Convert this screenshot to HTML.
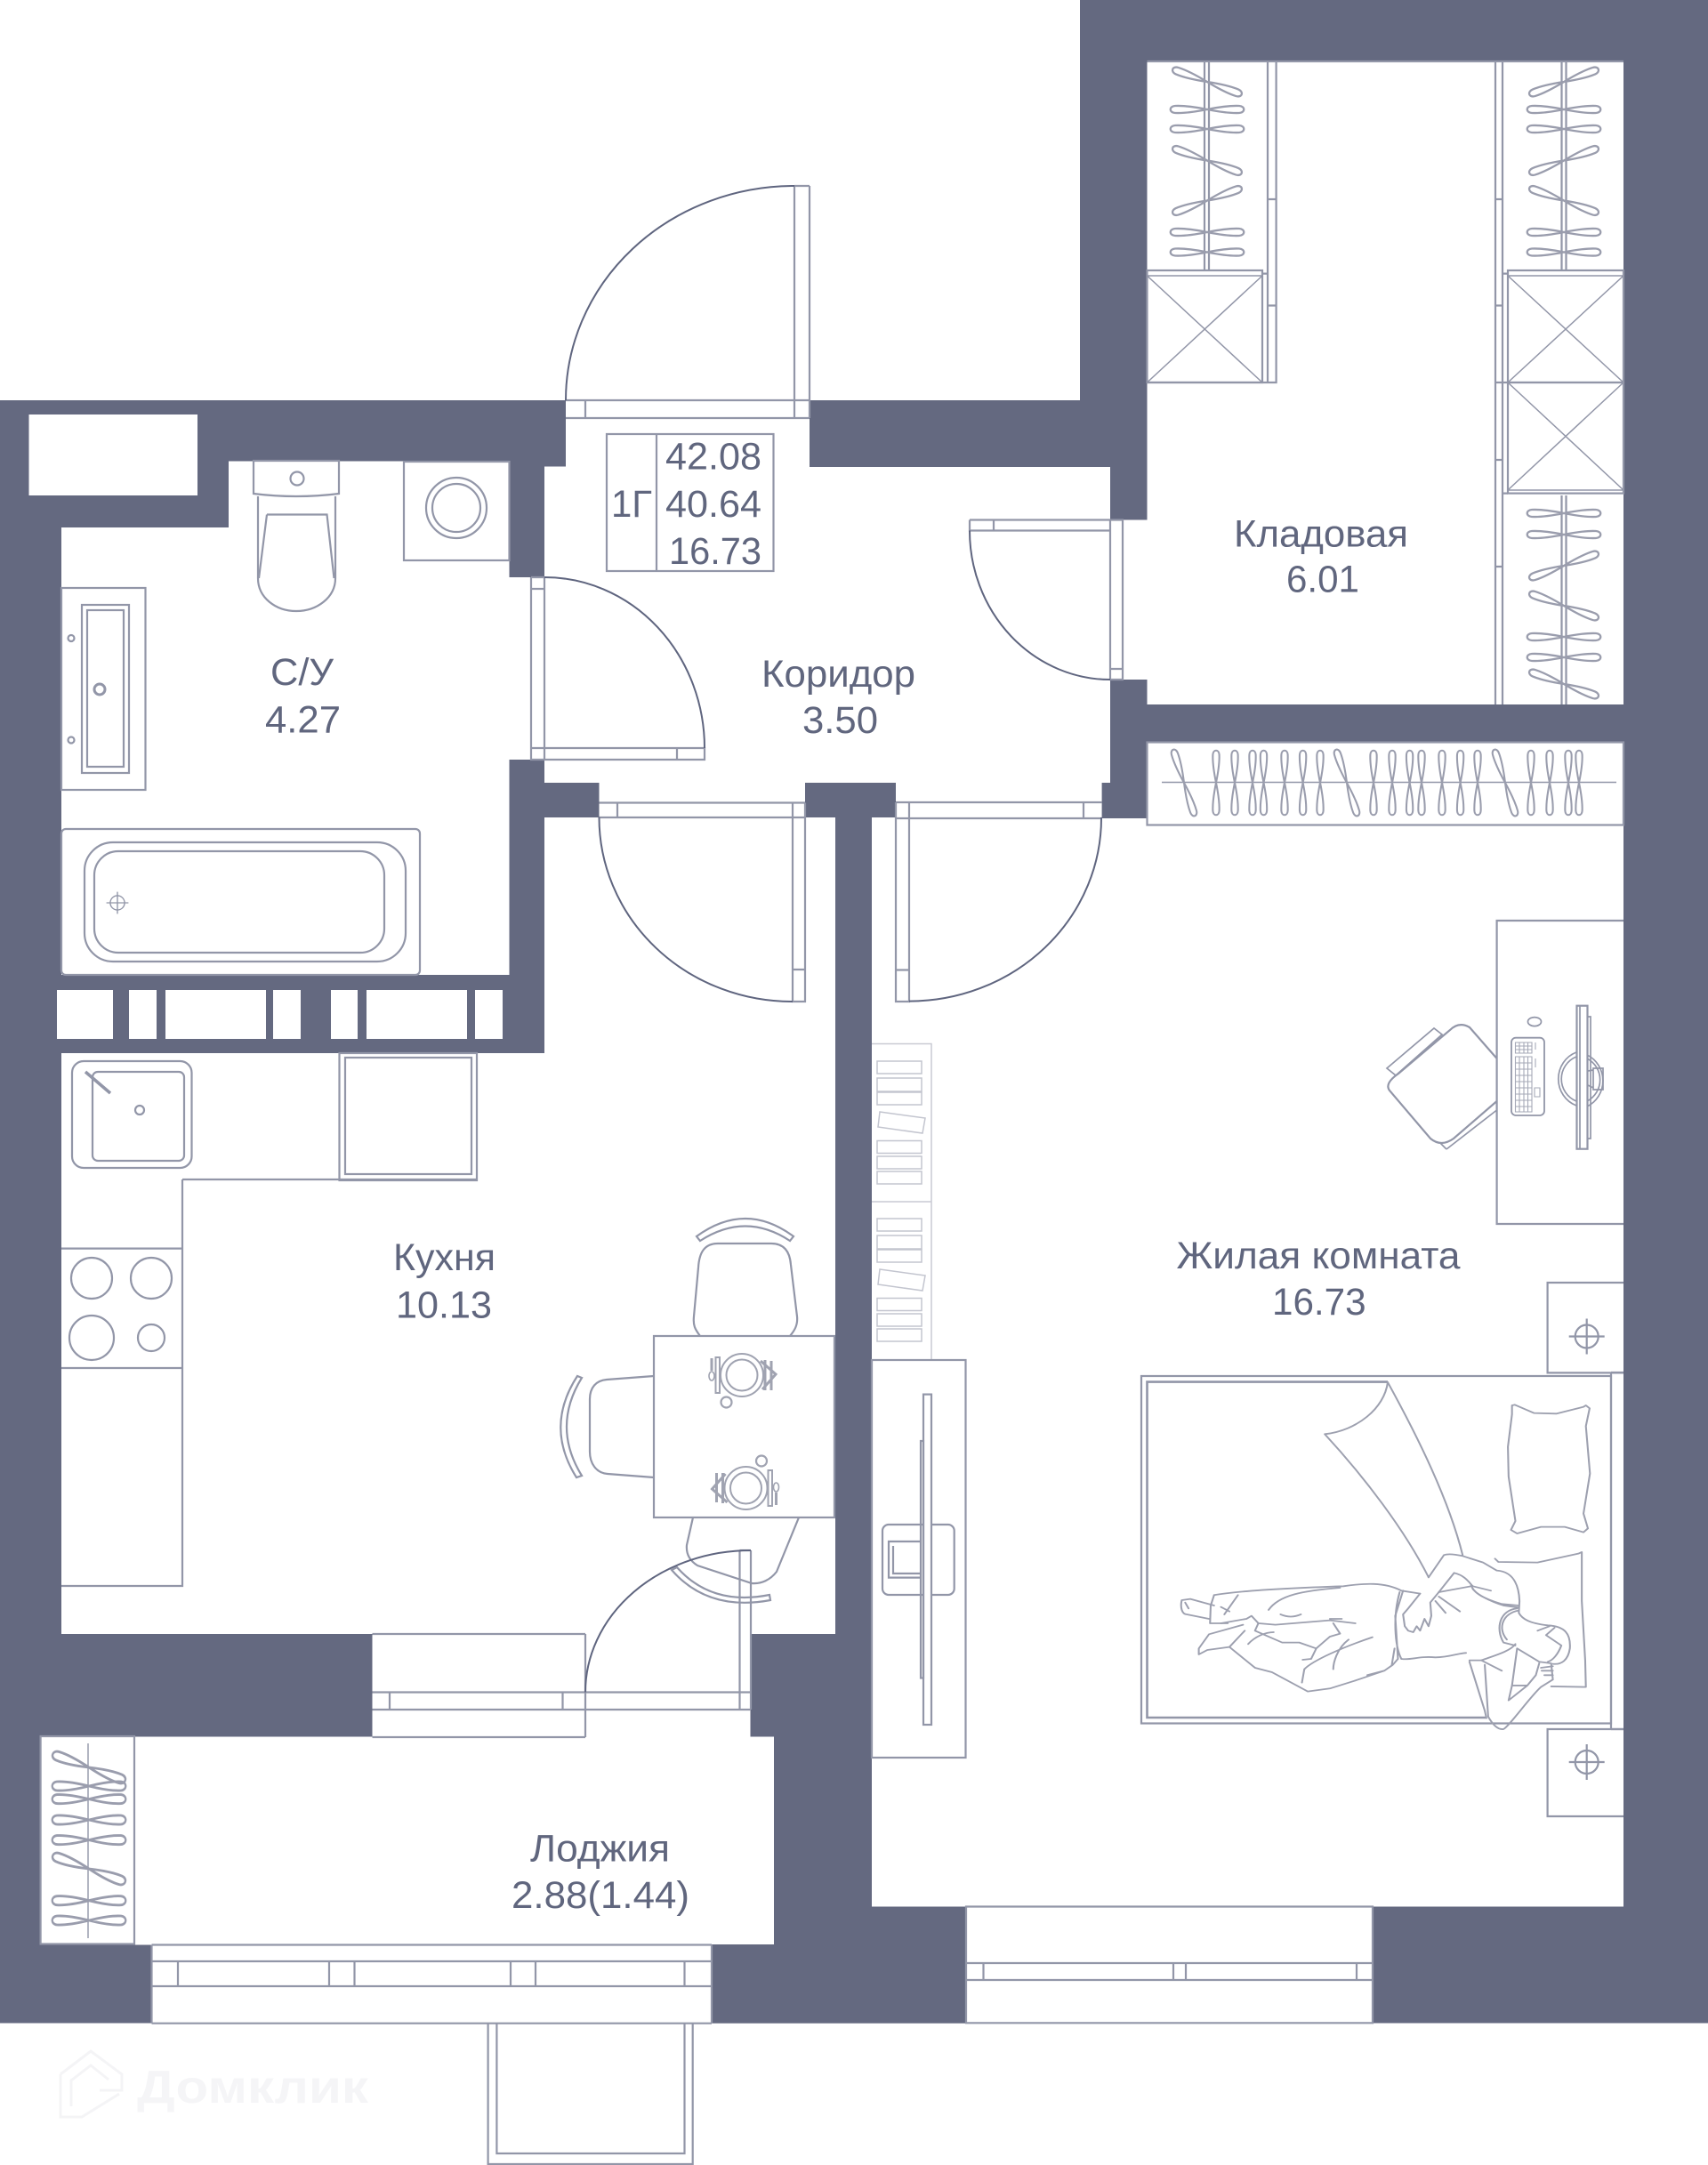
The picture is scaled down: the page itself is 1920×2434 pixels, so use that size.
<!DOCTYPE html>
<html lang="ru"><head><meta charset="utf-8"><title>План квартиры</title>
<style>
html,body{margin:0;padding:0;background:#fff}
svg{display:block}
text{font-family:"Liberation Sans","DejaVu Sans",sans-serif;fill:#60667e}
.w{fill:#646980}
.h{fill:#fff}
.l{fill:none;stroke:#9296a8;stroke-width:2.200}
.d{fill:none;stroke:#5f657f;stroke-width:2}
.g{fill:none;stroke:#c9cad3;stroke-width:1.500}
.n{fill:none;stroke:#9da0af;stroke-width:1.700;stroke-linejoin:round;stroke-linecap:round}
</style></head><body>
<svg width="1920" height="2434" viewBox="0 0 1920 2434" xmlns="http://www.w3.org/2000/svg">
<defs>
<path id="hg" d="M0 0C-10 -2 -26 -4.500 -36 -4C-43 -3.500 -43 3.500 -36 4C-26 4.500 -10 2 0 0C10 -2 26 -4.500 36 -4C43 -3.500 43 3.500 36 4C26 4.500 10 2 0 0Z" fill="none" stroke="#9a9dad" stroke-width="2.300"/>
<g id="cross"><path class="l" d="M-20 0H20M0 -20V20"/><circle class="l" cx="0" cy="0" r="13"/></g>
<g id="plate">
<circle cx="0" cy="0" r="24" fill="none" stroke="#a0a3b1" stroke-width="2"/>
<circle cx="0" cy="0" r="17.500" fill="none" stroke="#a0a3b1" stroke-width="2"/>
<circle cx="-17.500" cy="30.500" r="6" fill="none" stroke="#a0a3b1" stroke-width="2.200"/>
<rect x="-29.500" y="-20" width="4.500" height="40" fill="none" stroke="#a0a3b1" stroke-width="2"/>
<path d="M-34 -19V-5" stroke="#a0a3b1" stroke-width="3" fill="none"/>
<ellipse cx="-34" cy="1" rx="3" ry="5" fill="none" stroke="#a0a3b1" stroke-width="1.600"/>
<path d="M21 -16L38 -1L23 16M26 -17V17M33 -16V17" stroke="#a0a3b1" stroke-width="3" fill="none"/>
</g>
<g id="books" fill="none" stroke="#c3c5cf" stroke-width="1.500">
<rect x="986" y="0" width="50" height="14"/><rect x="986" y="19" width="50" height="15"/><rect x="986" y="35" width="50" height="14"/>
<path d="M989 57L1040 64L1037 81L987 74Z"/>
<rect x="986" y="89.500" width="50" height="14"/><rect x="986" y="107" width="50" height="14"/><rect x="986" y="124" width="50" height="14"/>
</g>
</defs>
<rect width="1920" height="2434" fill="#fff"/>

<!-- walls -->
<g class="w">
<rect x="0" y="450" width="636" height="68.500"/><rect x="572.500" y="518" width="63.500" height="6.500"/>
<rect x="0" y="450" width="257" height="143"/><rect x="0" y="450" width="69" height="1390"/>
<rect x="572.500" y="518" width="39.500" height="131"/><rect x="572.500" y="854" width="39.500" height="330"/>
<rect x="612" y="880" width="61.500" height="39"/>
<rect x="0" y="1096" width="612" height="88"/>
<rect x="0" y="1837" width="418.500" height="115.500"/><rect x="843.500" y="1837" width="135" height="115.500"/>
<rect x="0" y="1952" width="45.600" height="235"/><rect x="0" y="2186.500" width="170.500" height="88"/>
<rect x="870" y="1952" width="108.600" height="192"/>
<rect x="939" y="880" width="41" height="1264"/><rect x="905" y="880" width="102" height="39"/>
<rect x="870" y="2143.500" width="216" height="131"/><rect x="800" y="2186" width="286" height="88.700"/>
<rect x="1825" y="0" width="95" height="2274"/><rect x="1543" y="2143.500" width="377" height="131"/>
<rect x="1214" y="0" width="706" height="69"/><rect x="1214" y="0" width="75.500" height="525"/>
<rect x="910" y="450" width="379" height="75"/>
<rect x="1248" y="525" width="41.500" height="59.500"/><rect x="1248" y="764" width="41.500" height="28"/>
<rect x="1248" y="792" width="672" height="42"/><rect x="1248" y="834" width="41.500" height="86"/><rect x="1238.600" y="880" width="51" height="40"/>
</g>
<g class="h">
<rect x="32.500" y="466" width="189.500" height="91"/>
<rect x="64" y="1113" width="63" height="55"/><rect x="145" y="1113" width="31" height="55"/><rect x="186" y="1113" width="113" height="55"/><rect x="307" y="1113" width="31" height="55"/><rect x="372" y="1113" width="30" height="55"/><rect x="412" y="1113" width="113" height="55"/><rect x="534" y="1113" width="31" height="55"/>
</g>

<!-- doors -->
<g class="l">
<path d="M636 450H910M636 470H910M658 450V470M893 209V470M910 209V470M893 209H910"/>
<path d="M597 649V854H792V841H612M612 649V854M597 649H612M597 662H612M761 841V854M597 841H612"/>
<path d="M673.500 902.500H905M673.500 919H905M694 902.500V919M891 902.500V1126H905V902.500M891 1090H905"/>
<path d="M1007 902H1238.600M1007 920H1238.600M1007 902V1126H1022V902M1007 1090.500H1022M1218 902V920"/>
<path d="M1090 584.500H1262V764H1248V584.500M1090 584.500V596.500H1248M1117 584.500V596.500M1248 752H1262"/>
<path d="M658 1837V1953M418.500 1837H658M418.500 1953H658M418.500 1902.500H844M418.500 1922H844M438 1902.500V1922M632.500 1902.500V1922M658 1902.500V1922M831.500 1743V1922M844 1743V1922M831.500 1743H844"/>
</g>
<g class="d">
<path d="M636 450A257 241 0 0 1 893 209"/>
<path d="M612 649A180 192 0 0 1 792 841"/>
<path d="M673.500 919A217 207 0 0 0 891 1126"/>
<path d="M1022 1125.600A216 206 0 0 0 1238 919"/>
<path d="M1090 596.500A158 167.500 0 0 0 1248 764"/>
</g>

<!-- info box -->
<g class="l"><rect x="682" y="488" width="187.500" height="154"/><path d="M738 488V642"/></g>

<!-- bathroom -->
<g class="l">
<path d="M285 518H381V555Q333 561 285 555Z"/><ellipse cx="334" cy="538" rx="7.500" ry="7.500"/>
<path d="M290 558V650C290 672 310 687 333 687C356 687 377 672 377 650V558"/>
<path d="M300 578.500H367.500L375.500 650M300 578.500L291 650"/>
<rect x="454" y="519" width="118.500" height="111"/><circle cx="513" cy="571" r="34"/><circle cx="513" cy="571" r="27"/>
<rect x="69" y="661" width="94.500" height="227"/><rect x="92" y="680" width="53" height="189"/><rect x="98" y="686" width="41" height="176"/>
<circle cx="112" cy="775" r="6" stroke-width="3"/><circle cx="80" cy="717.500" r="3.500"/><circle cx="80" cy="832" r="3.500"/>
<rect x="69" y="932" width="403" height="164" rx="5"/><rect x="95" y="947" width="361" height="134" rx="32"/><rect x="106" y="957" width="326" height="114" rx="27"/>
</g>
<use href="#cross" transform="translate(132 1015) scale(.62)"/>

<!-- kitchen -->
<g class="l">
<path d="M205 1326H536M205 1326V1783H69M69 1403.600H205M69 1538H205"/>
<rect x="381.500" y="1184" width="154.500" height="143"/><rect x="388" y="1189" width="142" height="131"/>
<rect x="81" y="1193" width="134.500" height="120" rx="13"/><rect x="104" y="1205" width="103" height="100" rx="6"/><circle cx="157" cy="1248" r="5"/>
<path d="M96 1205L124 1229" stroke-width="3.500"/>
<circle cx="103" cy="1437" r="23"/><circle cx="170" cy="1437" r="23"/><circle cx="103" cy="1504" r="25"/><circle cx="170" cy="1504" r="15"/>
<rect x="735" y="1502" width="203" height="204" fill="#fff"/>
<path d="M787 1502C781 1494 779 1490 780 1480L785 1425C786 1408 792 1398 807 1398H867C882 1398 888 1408 889 1422L896 1480C897 1490 893 1496 888 1502"/>
<path d="M783 1390Q838 1350 892 1390L888 1395Q838 1362 787 1395Z"/>
<path d="M735 1547L682 1551C670 1552 663 1560 663 1573V1632C663 1645 670 1656 683 1657L735 1661"/>
<path d="M654 1549Q620 1604 654 1659L648 1661Q612 1604 649 1547Z"/>
<path d="M779 1706L772 1737C771 1748 776 1755 784 1760L845 1780C856 1781 866 1776 873 1767L898 1706"/>
<path d="M761 1762Q800 1806 865 1793L866 1799Q796 1812 755 1765Z"/>
</g>
<path class="d" d="M658 1902.500A186 159.500 0 0 1 844 1743"/>
<use href="#plate" transform="translate(834 1546)"/>
<use href="#plate" transform="translate(838.500 1673) rotate(180)"/>

<!-- loggia -->
<g class="l">
<rect x="45.600" y="1952" width="105.400" height="233.500"/><path d="M99 1960V2179" stroke-width="1.400"/>
<path d="M170.500 2186.500H800M170.500 2205H800M170.500 2233H800M170.500 2274.700H800M200 2205V2233M370 2205V2233M398.500 2205V2233M574 2205V2233M602 2205V2233M769.500 2205V2233M800 2186.500V2274.700M170.500 2186.500V2274.700"/>
<path d="M548.600 2274.700V2433H778.700V2274.700M558.400 2274.700V2421H769.500V2274.700"/>
</g>
<use href="#hg" transform="translate(100 1987) rotate(20) scale(1.050 1.250)"/>
<use href="#hg" transform="translate(100 2008) scale(1 1.250)"/>
<use href="#hg" transform="translate(100 2022.600) scale(1 1.250)"/>
<use href="#hg" transform="translate(100 2046) scale(1 1.250)"/>
<use href="#hg" transform="translate(100 2068.600) scale(1 1.250)"/>
<use href="#hg" transform="translate(100 2101) rotate(20) scale(1.050 1.250)"/>
<use href="#hg" transform="translate(100 2136.700) scale(1 1.250)"/>
<use href="#hg" transform="translate(100 2159) scale(1 1.250)"/>

<!-- bedroom window -->
<g class="l">
<path d="M1086 2143.500H1543V2274.300H1086ZM1086 2207H1543M1086 2226H1543M1105.500 2207V2226M1319 2207V2226M1333 2207V2226M1525 2207V2226"/>
</g>

<!-- storeroom -->
<g class="l">
<path d="M1289.500 69H1825M1434.600 69V430H1289.500M1425 69V430M1425 224H1434.600M1425 343.500H1434.600M1425 307.600H1419"/>
<path d="M1354 69V303M1359 69V303"/>
<rect x="1289.500" y="304" width="129.500" height="126"/><path d="M1289.500 310H1419M1289.500 310L1419 430M1419 310L1289.500 430" stroke-width="1.500"/>
<path d="M1681 69V792M1689 69V792M1681 224H1689M1681 343.500H1689M1681 430H1695M1681 517H1689M1681 637H1689M1689 307.600H1695M1689 554.600H1695"/>
<path d="M1755.500 69V303M1760.500 69V303M1755.500 557V792M1760.500 557V792"/>
<rect x="1695" y="304" width="130" height="126"/><path d="M1695 310H1825M1695 310L1825 430M1825 310L1695 430" stroke-width="1.500"/>
<rect x="1695" y="430" width="130" height="124.600"/><path d="M1695 551H1825M1695 430L1825 551M1825 430L1695 551" stroke-width="1.500"/>
<rect x="1289.500" y="834.500" width="535.500" height="93"/><path d="M1306 879.500H1817" stroke-width="1.500"/>
</g>
<use href="#hg" transform="translate(1357 92) rotate(20)"/><use href="#hg" transform="translate(1357 123)"/><use href="#hg" transform="translate(1357 145)"/><use href="#hg" transform="translate(1357 180.500) rotate(20)"/><use href="#hg" transform="translate(1357 225.500) rotate(-20)"/><use href="#hg" transform="translate(1357 261)"/><use href="#hg" transform="translate(1357 283.500)"/>
<use href="#hg" transform="translate(1758 92) rotate(-20)"/><use href="#hg" transform="translate(1758 123)"/><use href="#hg" transform="translate(1758 145)"/><use href="#hg" transform="translate(1758 180.500) rotate(-20)"/><use href="#hg" transform="translate(1758 225.500) rotate(20)"/><use href="#hg" transform="translate(1758 261)"/><use href="#hg" transform="translate(1758 283.500)"/>
<use href="#hg" transform="translate(1758 577)"/><use href="#hg" transform="translate(1758 601)"/><use href="#hg" transform="translate(1758 636) rotate(-20)"/><use href="#hg" transform="translate(1758 681) rotate(20)"/><use href="#hg" transform="translate(1758 716)"/><use href="#hg" transform="translate(1758 739)"/><use href="#hg" transform="translate(1758 769) rotate(20)"/>

<!-- bedroom wardrobe hangers -->
<use href="#hg" transform="translate(1331 880) rotate(72) scale(.95 .9)"/>
<use href="#hg" transform="translate(1367 880) rotate(90) scale(.88 .9)"/><use href="#hg" transform="translate(1388 880) rotate(90) scale(.88 .9)"/><use href="#hg" transform="translate(1408 880) rotate(90) scale(.88 .9)"/><use href="#hg" transform="translate(1420.500 880) rotate(90) scale(.88 .9)"/><use href="#hg" transform="translate(1444 880) rotate(90) scale(.88 .9)"/><use href="#hg" transform="translate(1464.600 880) rotate(90) scale(.88 .9)"/><use href="#hg" transform="translate(1484 880) rotate(90) scale(.88 .9)"/>
<use href="#hg" transform="translate(1514 880) rotate(72) scale(.95 .9)"/>
<use href="#hg" transform="translate(1544 880) rotate(90) scale(.88 .9)"/><use href="#hg" transform="translate(1565 880) rotate(90) scale(.88 .9)"/><use href="#hg" transform="translate(1584.600 880) rotate(90) scale(.88 .9)"/><use href="#hg" transform="translate(1598 880) rotate(90) scale(.88 .9)"/><use href="#hg" transform="translate(1621 880) rotate(90) scale(.88 .9)"/><use href="#hg" transform="translate(1641.600 880) rotate(90) scale(.88 .9)"/><use href="#hg" transform="translate(1661 880) rotate(90) scale(.88 .9)"/>
<use href="#hg" transform="translate(1692 880) rotate(72) scale(.95 .9)"/>
<use href="#hg" transform="translate(1721 880) rotate(90) scale(.88 .9)"/><use href="#hg" transform="translate(1742 880) rotate(90) scale(.88 .9)"/><use href="#hg" transform="translate(1763 880) rotate(90) scale(.88 .9)"/><use href="#hg" transform="translate(1775 880) rotate(90) scale(.88 .9)"/>

<!-- bedroom: bookshelves & tv -->
<path class="g" d="M980 1173.500H1047V1528M980 1351H1047"/>
<use href="#books" transform="translate(0 1193)"/>
<use href="#books" transform="translate(0 1370)"/>
<g class="l">
<rect x="980" y="1529" width="105.500" height="447" fill="#fff"/>
<rect x="992" y="1714" width="80.700" height="79" rx="7"/><path d="M1035 1733H999V1773.600H1035M1004 1738V1769H1035"/>
<rect x="1038" y="1567.600" width="9" height="371.400" fill="#fff"/><rect x="1035" y="1620" width="3" height="266.500"/>
<!-- desk -->
<path d="M1825 1035H1682.600V1376H1825"/>
<path d="M1784 1186A31 32 0 0 1 1784 1244M1772 1183A31 32 0 0 0 1772 1243M1784 1190A27 27 0 0 1 1784 1238M1772 1188A27 27 0 0 0 1772 1238" stroke-width="1.700"/>
<path d="M1785 1204L1791 1203V1201H1802V1225H1791V1223L1785 1220M1791 1203L1791 1223" stroke-width="1.700"/>
<rect x="1772.500" y="1130.700" width="12" height="161" fill="#fff"/><path d="M1776 1131V1291M1784.500 1143H1788V1280H1784.500" stroke-width="1.700"/>
<ellipse cx="1725" cy="1148.600" rx="7.500" ry="5" stroke-width="1.700"/>
<rect x="1699" y="1166.700" width="37" height="87.300" rx="5" stroke-width="1.800"/>
<path d="M1703.500 1172H1722V1184H1703.500ZM1703.500 1176H1722M1703.500 1180H1722M1708 1172V1184M1713 1172V1184M1717.500 1172V1184M1703.500 1188H1722V1250H1703.500ZM1703.500 1195H1722M1703.500 1202H1722M1703.500 1209H1722M1703.500 1216H1722M1703.500 1223H1722M1703.500 1230H1722M1703.500 1237H1722M1703.500 1244H1722M1708 1188V1250M1713 1188V1250M1717.500 1188V1250M1726 1172V1180M1726 1190V1200M1725 1223H1731V1233H1725Z" stroke-width="1.100" stroke="#a6a9b7"/>
<path d="M1682.600 1190L1652 1155Q1640 1148 1630 1158L1572 1207Q1556 1218 1562 1226L1608 1280Q1620 1290 1634 1280L1682.600 1238"/>
<path d="M1559 1201L1612 1156L1621 1163L1569 1209ZM1626 1292L1682.600 1248M1619 1285L1626 1292" stroke-width="1.700"/>
<!-- nightstands -->
<path d="M1825 1442H1739.600V1543.400H1825M1825 1944H1739.600V2042H1825"/>
<!-- bed -->
<rect x="1283" y="1547" width="528" height="390.500"/>
<path d="M1811 1543H1825M1811 1944H1825M1811 1543V1944"/>
<path d="M1560 1553.600H1289.500V1931H1671" stroke-width="2.600"/>
</g>
<use href="#cross" transform="translate(1783.700 1502.500)"/>
<use href="#cross" transform="translate(1783.700 1981)"/>

<!-- person / bedding traced in zoom coordinates -->
<g transform="translate(1250 1500) scale(.3827 .3333)">
<g class="n" style="stroke-width:5.400">
<path d="M810 162C800 250 720 325 625 337C740 480 860 660 930 820M810 162C900 350 990 560 1030 745"/>
<path d="M1175 240L1183 238L1240 266L1305 268L1385 245L1392 240L1403 250L1392 310L1404 470L1385 605L1398 655L1385 668L1330 650L1260 650L1190 672L1172 660L1185 630L1165 480L1163 380L1175 270Z"/>
<path d="M1125 757L1135 768L1250 770L1370 740L1380 735L1380 900L1390 1100L1392 1190L1290 1188"/>
<path d="M930 820L975 745Q990 738 1030 748L1090 770L1130 797C1175 800 1195 840 1197 900L1195 940C1205 960 1225 975 1280 982C1330 985 1348 1010 1345 1060C1340 1100 1320 1115 1295 1112"/>
<path d="M905 875L870 925L855 945L860 985L870 1000L885 1005L895 985L905 1000L918 960L930 985L938 950L935 905L960 870L1005 805C1040 815 1050 840 1060 850L1113 865"/>
<path d="M960 870L1055 850M960 885L1022 935M950 900L980 940"/>
<path d="M1055 845C1060 875 1100 895 1145 910L1195 915M1060 860C1075 880 1110 900 1150 915L1195 922"/>
<path d="M1190 925C1140 930 1125 990 1150 1040L1185 1050M1195 932C1150 940 1130 990 1160 1030"/>
<path d="M855 865L832 950L840 1095M845 870C825 950 830 1050 850 1095"/>
<path d="M300 880C370 865 550 855 680 850C740 840 800 835 850 865L905 875"/>
<path d="M850 1095C880 1100 900 1085 950 1090C990 1090 1020 1075 1040 1075M1050 1100L1085 1100C1120 1085 1170 1070 1185 1045"/>
<path d="M300 915L230 893L205 897C200 920 205 945 220 945L285 960M215 905L225 925M300 880L290 915L288 975L340 975M320 920L345 935M370 880L330 945"/>
<path d="M320 975L395 960L410 950L430 975L480 980L640 965L715 975M460 930C490 880 560 865 670 855M495 945Q525 960 555 945M640 960L675 960"/>
<path d="M430 975L420 1000L500 1040L550 1040L600 1060L640 1020L670 1010L650 975M400 1045C420 1020 450 1005 475 1005"/>
<path d="M385 980L285 1012L255 1060L255 1080L280 1065L345 1055L390 1000"/>
<path d="M345 1055L420 1125L470 1140L575 1205L640 1195L710 1170L800 1135L825 1115L840 1095M830 1060L822 1115M750 1150L800 1135"/>
<path d="M765 1022C680 1055 590 1100 565 1130L558 1175M695 1030C660 1060 650 1110 650 1130M600 1060L585 1095L560 1098"/>
<path d="M1050 1105L1095 1270L1100 1295M1095 1115L1105 1290C1120 1320 1135 1335 1150 1332C1165 1325 1230 1220 1260 1190L1295 1165L1290 1110L1255 1105L1190 1060M1085 1100L1145 1135"/>
<path d="M1190 1060L1175 1185L1165 1235L1220 1185L1245 1150L1255 1110M1175 1185L1220 1185"/>
<path d="M1260 1125L1295 1120M1262 1135L1295 1135M1270 1150L1295 1150M1250 1000L1285 985M1275 1015L1300 990M1275 1015L1320 1050C1310 1080 1295 1100 1280 1105"/>
</g>
</g>

<!-- labels -->
<g font-size="43">
<text x="687" y="581" textLength="46" lengthAdjust="spacingAndGlyphs">1Г</text>
<text x="748" y="527.500" textLength="108" lengthAdjust="spacingAndGlyphs">42.08</text>
<text x="748" y="581" textLength="108" lengthAdjust="spacingAndGlyphs">40.64</text>
<text x="752" y="634" textLength="104" lengthAdjust="spacingAndGlyphs">16.73</text>
<text x="304" y="770" textLength="71" lengthAdjust="spacingAndGlyphs">С/У</text>
<text x="298" y="823.500" textLength="85" lengthAdjust="spacingAndGlyphs">4.27</text>
<text x="856" y="772" textLength="173" lengthAdjust="spacingAndGlyphs">Коридор</text>
<text x="902" y="824" textLength="85" lengthAdjust="spacingAndGlyphs">3.50</text>
<text x="1387" y="614.500" textLength="196" lengthAdjust="spacingAndGlyphs">Кладовая</text>
<text x="1446" y="665.500" textLength="82" lengthAdjust="spacingAndGlyphs">6.01</text>
<text x="442" y="1428" textLength="115" lengthAdjust="spacingAndGlyphs">Кухня</text>
<text x="445" y="1481.600" textLength="108" lengthAdjust="spacingAndGlyphs">10.13</text>
<text x="1322.500" y="1426" textLength="319" lengthAdjust="spacingAndGlyphs">Жилая комната</text>
<text x="1430" y="1478" textLength="105.600" lengthAdjust="spacingAndGlyphs">16.73</text>
<text x="596" y="2092.400" textLength="157" lengthAdjust="spacingAndGlyphs">Лоджия</text>
<text x="575" y="2145" textLength="200" lengthAdjust="spacingAndGlyphs">2.88(1.44)</text>
</g>

<!-- watermark -->
<path d="M68 2332L102 2306L137 2332V2350H112M68 2332V2380H92L134 2354M80 2368V2339L102 2322L122 2338" fill="none" stroke="#f4f4f6" stroke-width="3"/>
<text x="154" y="2364" font-size="52" font-weight="bold" textLength="260" lengthAdjust="spacingAndGlyphs" style="fill:#f5f5f7">Домклик</text>
</svg>
</body></html>
